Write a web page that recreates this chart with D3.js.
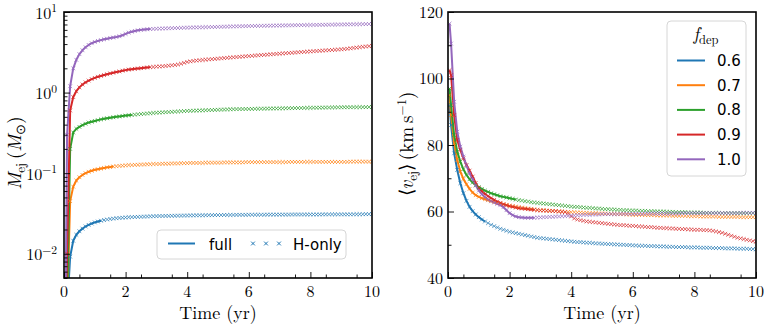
<!DOCTYPE html>
<html>
<head>
<meta charset="utf-8">
<script src="https://cdn.jsdelivr.net/npm/d3@7"></script>
<style>
  body { margin: 0; background: #fff; }
  svg { display: block; }
  .serif { font-family: 'Latin Modern Roman', 'Liberation Serif', serif; font-weight: normal; }
</style>
</head>
<body>
<div id="chart"></div>
<script>
const WIDTH = 769;
const HEIGHT = 327;
const SERIF = "'Latin Modern Roman', 'Liberation Serif', serif";
const SANS = "'DejaVu Sans', sans-serif";

// f_dep values, colours and the time (yr) at which the "full" run stops
const FDEP = ['0.6', '0.7', '0.8', '0.9', '1.0'];
const COLORS = ['#1f77b4', '#ff7f0e', '#2ca02c', '#d62728', '#9467bd'];
const FULL_END = [1.2, 1.6, 2.2, 2.8, 2.8];

// sample times: 0.05 then every 0.1 yr up to 10
const TIMES = [0.05, ...d3.range(1, 101).map(i => i / 10)];

// ejected mass (Msun), one value per TIMES entry
const MEJ_F06 = [0.001,
  0.002, 0.0092, 0.0145, 0.0172, 0.019, 0.0205, 0.0218, 0.0228, 0.0237, 0.0245,
  0.0251, 0.0257, 0.0262, 0.0266, 0.027, 0.0273, 0.0276, 0.0278, 0.028, 0.0282,
  0.0284, 0.0285, 0.0286, 0.0287, 0.0288, 0.0289, 0.029, 0.0291, 0.0292, 0.0293,
  0.0294, 0.0294, 0.0295, 0.0295, 0.0296, 0.0296, 0.0297, 0.0297, 0.0298, 0.0298,
  0.0299, 0.0299, 0.03, 0.03, 0.03, 0.0301, 0.0301, 0.0301, 0.0302, 0.0302,
  0.0302, 0.0303, 0.0303, 0.0303, 0.0303, 0.0304, 0.0304, 0.0304, 0.0304, 0.0305,
  0.0305, 0.0305, 0.0305, 0.0305, 0.0305, 0.0306, 0.0306, 0.0306, 0.0306, 0.0306,
  0.0306, 0.0306, 0.0306, 0.0307, 0.0307, 0.0307, 0.0307, 0.0307, 0.0307, 0.0307,
  0.0307, 0.0307, 0.0307, 0.0308, 0.0308, 0.0308, 0.0308, 0.0308, 0.0308, 0.0308,
  0.0308, 0.0308, 0.0308, 0.0309, 0.0309, 0.0309, 0.0309, 0.031, 0.031, 0.031];
const MEJ_F07 = [0.001,
  0.002, 0.045, 0.068, 0.081, 0.089, 0.095, 0.1, 0.104, 0.107, 0.11,
  0.112, 0.114, 0.116, 0.118, 0.119, 0.121, 0.122, 0.123, 0.124, 0.125,
  0.126, 0.126, 0.127, 0.127, 0.128, 0.128, 0.129, 0.129, 0.13, 0.13,
  0.13, 0.131, 0.131, 0.131, 0.132, 0.132, 0.132, 0.133, 0.133, 0.133,
  0.134, 0.134, 0.134, 0.134, 0.134, 0.135, 0.135, 0.135, 0.135, 0.135,
  0.135, 0.136, 0.136, 0.136, 0.136, 0.136, 0.136, 0.136, 0.137, 0.137,
  0.137, 0.137, 0.137, 0.137, 0.137, 0.137, 0.137, 0.137, 0.137, 0.137,
  0.137, 0.137, 0.138, 0.138, 0.138, 0.138, 0.138, 0.138, 0.138, 0.138,
  0.138, 0.138, 0.138, 0.138, 0.138, 0.138, 0.138, 0.138, 0.138, 0.138,
  0.138, 0.138, 0.139, 0.139, 0.139, 0.139, 0.139, 0.139, 0.139, 0.139];
const MEJ_F08 = [0.001,
  0.002, 0.2, 0.32, 0.355, 0.375, 0.395, 0.41, 0.425, 0.435, 0.445,
  0.455, 0.465, 0.473, 0.48, 0.487, 0.494, 0.5, 0.506, 0.512, 0.518,
  0.523, 0.528, 0.533, 0.538, 0.542, 0.546, 0.55, 0.554, 0.558, 0.562,
  0.565, 0.568, 0.571, 0.574, 0.577, 0.58, 0.583, 0.586, 0.589, 0.592,
  0.594, 0.596, 0.598, 0.6, 0.602, 0.604, 0.606, 0.608, 0.61, 0.612,
  0.614, 0.616, 0.618, 0.62, 0.622, 0.623, 0.624, 0.625, 0.626, 0.627,
  0.628, 0.629, 0.63, 0.631, 0.632, 0.633, 0.634, 0.635, 0.636, 0.637,
  0.638, 0.639, 0.64, 0.641, 0.642, 0.643, 0.644, 0.645, 0.646, 0.647,
  0.648, 0.649, 0.65, 0.651, 0.652, 0.653, 0.654, 0.655, 0.656, 0.657,
  0.657, 0.658, 0.658, 0.659, 0.659, 0.66, 0.66, 0.66, 0.661, 0.661];
const MEJ_F09 = [0.001,
  0.01, 0.6, 0.88, 1.04, 1.16, 1.26, 1.34, 1.41, 1.47, 1.52,
  1.57, 1.61, 1.65, 1.69, 1.73, 1.76, 1.8, 1.83, 1.87, 1.9,
  1.93, 1.95, 1.97, 1.99, 2.01, 2.03, 2.05, 2.07, 2.08, 2.1,
  2.11, 2.12, 2.14, 2.16, 2.18, 2.2, 2.23, 2.28, 2.34, 2.4,
  2.44, 2.47, 2.5, 2.52, 2.54, 2.56, 2.58, 2.6, 2.62, 2.64,
  2.66, 2.68, 2.7, 2.72, 2.74, 2.76, 2.78, 2.8, 2.82, 2.84,
  2.86, 2.88, 2.9, 2.92, 2.94, 2.96, 2.98, 3.0, 3.02, 3.04,
  3.06, 3.08, 3.1, 3.12, 3.14, 3.16, 3.18, 3.2, 3.22, 3.24,
  3.26, 3.28, 3.3, 3.32, 3.34, 3.36, 3.38, 3.4, 3.42, 3.44,
  3.47, 3.5, 3.54, 3.58, 3.62, 3.66, 3.7, 3.73, 3.76, 3.8];
const MEJ_F10 = [0.002,
  0.3, 1.2, 2.0, 2.55, 3.0, 3.35, 3.65, 3.9, 4.1, 4.25,
  4.38, 4.48, 4.58, 4.66, 4.75, 4.82, 4.9, 5.0, 5.15, 5.35,
  5.55, 5.7, 5.82, 5.92, 6.0, 6.05, 6.1, 6.15, 6.17, 6.2,
  6.22, 6.24, 6.26, 6.28, 6.3, 6.32, 6.34, 6.36, 6.38, 6.4,
  6.41, 6.43, 6.44, 6.46, 6.47, 6.49, 6.5, 6.52, 6.53, 6.55,
  6.56, 6.58, 6.59, 6.61, 6.62, 6.64, 6.65, 6.67, 6.68, 6.7,
  6.71, 6.72, 6.73, 6.74, 6.75, 6.76, 6.77, 6.78, 6.79, 6.8,
  6.81, 6.82, 6.83, 6.84, 6.85, 6.86, 6.87, 6.88, 6.89, 6.9,
  6.91, 6.92, 6.93, 6.94, 6.95, 6.96, 6.97, 6.98, 6.99, 7.0,
  7.01, 7.02, 7.03, 7.04, 7.05, 7.06, 7.07, 7.08, 7.09, 7.1];

// mean ejecta velocity (km/s), one value per TIMES entry
const VEJ_F06 = [92,
  86, 77.5, 72.5, 68.5, 65.5, 63.2, 61.4, 60.1, 59.1, 58.3,
  57.6, 57.0, 56.5, 56.0, 55.6, 55.2, 54.8, 54.5, 54.2, 53.9,
  53.7, 53.5, 53.3, 53.1, 52.9, 52.7, 52.5, 52.3, 52.1, 52.0,
  51.9, 51.8, 51.7, 51.6, 51.5, 51.4, 51.3, 51.2, 51.1, 51.0,
  50.9, 50.8, 50.8, 50.7, 50.6, 50.6, 50.5, 50.4, 50.4, 50.3,
  50.3, 50.2, 50.2, 50.1, 50.1, 50.0, 50.0, 49.9, 49.9, 49.8,
  49.8, 49.7, 49.7, 49.7, 49.6, 49.6, 49.6, 49.5, 49.5, 49.5,
  49.4, 49.4, 49.4, 49.3, 49.3, 49.3, 49.3, 49.2, 49.2, 49.2,
  49.2, 49.1, 49.1, 49.1, 49.1, 49.0, 49.0, 49.0, 49.0, 48.9,
  48.9, 48.9, 48.9, 48.8, 48.8, 48.8, 48.8, 48.7, 48.7, 48.6];
const VEJ_F07 = [95,
  89, 80.5, 75.5, 72, 69.8, 68.2, 66.8, 65.7, 64.9, 64.4,
  64.0, 63.7, 63.4, 63.1, 62.9, 62.6, 62.4, 62.2, 62.0, 61.8,
  61.6, 61.5, 61.3, 61.2, 61.0, 60.9, 60.8, 60.6, 60.5, 60.4,
  60.4, 60.3, 60.2, 60.2, 60.1, 60.0, 60.0, 59.9, 59.9, 59.8,
  59.8, 59.7, 59.7, 59.6, 59.6, 59.5, 59.5, 59.5, 59.4, 59.4,
  59.4, 59.3, 59.3, 59.3, 59.2, 59.2, 59.2, 59.1, 59.1, 59.0,
  59.0, 59.0, 59.0, 58.9, 58.9, 58.9, 58.9, 58.8, 58.8, 58.8,
  58.8, 58.8, 58.7, 58.7, 58.7, 58.7, 58.7, 58.6, 58.6, 58.6,
  58.6, 58.5, 58.5, 58.5, 58.5, 58.5, 58.5, 58.4, 58.4, 58.4,
  58.4, 58.4, 58.4, 58.4, 58.3, 58.3, 58.3, 58.3, 58.3, 58.3];
const VEJ_F08 = [97,
  92, 83, 78, 75, 72.7, 71, 69.7, 68.7, 67.9, 67.3,
  66.8, 66.3, 65.9, 65.5, 65.2, 64.9, 64.6, 64.4, 64.2, 64.0,
  63.8, 63.6, 63.4, 63.3, 63.1, 63.0, 62.8, 62.7, 62.6, 62.5,
  62.4, 62.3, 62.2, 62.1, 62.0, 61.9, 61.8, 61.7, 61.6, 61.5,
  61.4, 61.4, 61.3, 61.2, 61.1, 61.1, 61.0, 60.9, 60.9, 60.8,
  60.7, 60.7, 60.6, 60.6, 60.5, 60.5, 60.4, 60.4, 60.3, 60.3,
  60.3, 60.2, 60.2, 60.2, 60.1, 60.1, 60.1, 60.0, 60.0, 60.0,
  59.9, 59.9, 59.9, 59.8, 59.8, 59.8, 59.8, 59.7, 59.7, 59.7,
  59.7, 59.7, 59.6, 59.6, 59.6, 59.6, 59.6, 59.6, 59.5, 59.5,
  59.5, 59.5, 59.5, 59.5, 59.5, 59.5, 59.5, 59.5, 59.5, 59.5];
const VEJ_F09 = [102.5,
  101, 89, 81.5, 78.5, 76, 74, 72.3, 70.5, 68.6, 67,
  66.1, 65.3, 64.6, 64.0, 63.5, 63.0, 62.6, 62.2, 61.9, 61.6,
  61.4, 61.2, 61.0, 60.9, 60.8, 60.7, 60.6, 60.5, 60.4, 60.3,
  60.3, 60.2, 60.2, 60.1, 60.1, 60.0, 59.9, 59.8, 59.4, 58.5,
  57.9, 57.6, 57.4, 57.2, 57.0, 56.9, 56.8, 56.7, 56.6, 56.5,
  56.4, 56.3, 56.2, 56.1, 56.0, 55.9, 55.9, 55.8, 55.7, 55.7,
  55.6, 55.5, 55.5, 55.4, 55.3, 55.3, 55.2, 55.1, 55.1, 55.0,
  55.0, 54.9, 54.9, 54.8, 54.8, 54.7, 54.7, 54.6, 54.6, 54.5,
  54.5, 54.5, 54.4, 54.4, 54.3, 54.2, 54.0, 53.8, 53.6, 53.3,
  53.0, 52.7, 52.4, 52.1, 51.9, 51.7, 51.5, 51.3, 51.1, 50.9];
const VEJ_F10 = [116.5,
  110.5, 93, 84, 79.5, 76.5, 73.8, 71.5, 69.7, 67.8, 66.3,
  65.2, 64.3, 63.6, 63.1, 62.7, 62.3, 61.9, 61.3, 60.4, 59.5,
  58.9, 58.5, 58.3, 58.2, 58.1, 58.1, 58.1, 58.1, 58.2, 58.2,
  58.3, 58.3, 58.4, 58.4, 58.5, 58.5, 58.6, 58.6, 58.7, 58.8,
  58.8, 58.9, 58.9, 59.0, 59.0, 59.0, 59.1, 59.1, 59.1, 59.2,
  59.2, 59.2, 59.2, 59.2, 59.2, 59.3, 59.3, 59.3, 59.3, 59.3,
  59.3, 59.3, 59.3, 59.4, 59.4, 59.4, 59.4, 59.4, 59.4, 59.4,
  59.4, 59.4, 59.4, 59.4, 59.4, 59.5, 59.5, 59.5, 59.5, 59.5,
  59.5, 59.5, 59.5, 59.5, 59.5, 59.5, 59.5, 59.5, 59.5, 59.5,
  59.5, 59.5, 59.5, 59.5, 59.6, 59.6, 59.6, 59.6, 59.6, 59.6];

const MEJ = [MEJ_F06, MEJ_F07, MEJ_F08, MEJ_F09, MEJ_F10];
const VEJ = [VEJ_F06, VEJ_F07, VEJ_F08, VEJ_F09, VEJ_F10];

const X_TICKS = [0, 2, 4, 6, 8, 10];
const LOG_TICKS = [1e-2, 1e-1, 1e0, 1e1];
const V_TICKS = [40, 60, 80, 100, 120];

const svg = d3.select('#chart').append('svg')
  .attr('width', WIDTH).attr('height', HEIGHT)
  .attr('class', 'serif');

const TOP = 12, BOTTOM = 278;
const panels = [
  { left: 64, right: 372, id: 'clipL' },
  { left: 448, right: 756, id: 'clipR' }
];

const yM = d3.scaleLog().domain([0.005, 10]).range([BOTTOM, TOP]);
const yV = d3.scaleLinear().domain([40, 120]).range([BOTTOM, TOP]);

const crossPath = 'M-1.9,-1.9L1.9,1.9M-1.9,1.9L1.9,-1.9';

function serifText(sel, size) {
  return sel.attr('class', 'serif').attr('font-family', SERIF)
    .style('font-family', SERIF).style('font-weight', 'normal')
    .style('font-size', size + 'px').attr('fill', '#000');
}

const xScales = panels.map(p => d3.scaleLinear().domain([0, 10]).range([p.left, p.right]));

function drawMarks(p, x, yScale, data) {
  svg.append('clipPath').attr('id', p.id)
    .append('rect')
    .attr('x', p.left).attr('y', TOP)
    .attr('width', p.right - p.left).attr('height', BOTTOM - TOP);

  const g = svg.append('g').attr('clip-path', `url(#${p.id})`);

  data.forEach((vals, i) => {
    const pts = TIMES.map((t, k) => [t, vals[k]]);
    const line = d3.line().x(d => x(d[0])).y(d => yScale(d[1]));
    g.append('path')
      .datum(pts.filter(d => d[0] <= FULL_END[i] + 1e-9))
      .attr('d', line)
      .attr('fill', 'none')
      .attr('stroke', COLORS[i])
      .attr('stroke-width', 2)
      .attr('stroke-linejoin', 'round');
  });

  data.forEach((vals, i) => {
    g.append('g').selectAll('path')
      .data(TIMES.map((t, k) => [t, vals[k]]))
      .join('path')
      .attr('d', crossPath)
      .attr('transform', d => `translate(${x(d[0])},${yScale(d[1])})`)
      .attr('fill', 'none')
      .attr('stroke', COLORS[i])
      .attr('stroke-width', 1)
      .attr('opacity', 0.7);
  });
}

drawMarks(panels[0], xScales[0], yM, MEJ);
drawMarks(panels[1], xScales[1], yV, VEJ);

// x axes: tick marks from d3 (pointing inward), labels placed from the same scale
panels.forEach((p, i) => {
  const x = xScales[i];
  svg.append('g').attr('transform', `translate(0,${BOTTOM})`)
    .call(d3.axisBottom(x).tickValues(X_TICKS).tickSizeInner(-6).tickSizeOuter(0).tickFormat(''))
    .call(a => a.select('.domain').remove());
  svg.append('g').attr('transform', `translate(0,${BOTTOM})`)
    .call(d3.axisBottom(x).tickValues(d3.range(0.5, 10, 1)).tickSizeInner(-3.5).tickSizeOuter(0).tickFormat(''))
    .call(a => a.select('.domain').remove());

  const labels = svg.append('g');
  X_TICKS.forEach(v => {
    serifText(labels.append('text'), 16)
      .attr('x', x(v)).attr('y', 297)
      .attr('text-anchor', 'middle')
      .text(String(v));
  });

  serifText(svg.append('text'), 18)
    .attr('x', (p.left + p.right) / 2).attr('y', 318.5)
    .attr('text-anchor', 'middle')
    .text('Time (yr)');
});

// left y axis: log scale
const pl = panels[0];
const minorLog = [];
[1e-3, 1e-2, 1e-1, 1e0].forEach(dec => {
  for (let m = 2; m <= 9; m++) {
    const v = m * dec;
    if (v >= 0.005 && v <= 10) minorLog.push(v);
  }
});
svg.append('g').attr('transform', `translate(${pl.left},0)`)
  .call(d3.axisLeft(yM).tickValues(LOG_TICKS).tickSizeInner(-6).tickSizeOuter(0).tickFormat(''))
  .call(a => a.select('.domain').remove());
svg.append('g').attr('transform', `translate(${pl.left},0)`)
  .call(d3.axisLeft(yM).tickValues(minorLog).tickSizeInner(-3.5).tickSizeOuter(0).tickFormat(''))
  .call(a => a.select('.domain').remove());

LOG_TICKS.forEach(v => {
  const e = Math.round(Math.log10(v));
  const t = serifText(svg.append('text'), 16)
    .attr('x', pl.left - 7).attr('y', yM(v) + 6.5)
    .attr('text-anchor', 'end');
  t.append('tspan').text('10');
  t.append('tspan').attr('dy', -6.5).style('font-size', '11.5px')
    .text(e < 0 ? '\u2212' + (-e) : String(e));
});

// right y axis: linear
const pr = panels[1];
const ya = svg.append('g').attr('transform', `translate(${pr.left},0)`)
  .call(d3.axisLeft(yV).tickValues(V_TICKS).tickSizeInner(-6).tickSizeOuter(0).tickPadding(5))
  .call(a => a.select('.domain').remove());
ya.attr('font-family', SERIF);
serifText(ya.selectAll('text'), 16);
svg.append('g').attr('transform', `translate(${pr.left},0)`)
  .call(d3.axisLeft(yV).tickValues([50, 70, 90, 110]).tickSizeInner(-3.5).tickSizeOuter(0).tickFormat(''))
  .call(a => a.select('.domain').remove());

svg.selectAll('.tick line').attr('stroke', '#000').attr('stroke-width', 0.9);

// frames
panels.forEach(p => {
  svg.append('rect')
    .attr('x', p.left).attr('y', TOP)
    .attr('width', p.right - p.left).attr('height', BOTTOM - TOP)
    .attr('fill', 'none').attr('stroke', '#000').attr('stroke-width', 1.6);
});

// y labels
const labL = serifText(svg.append('text'), 19)
  .attr('transform', `translate(21,${(TOP + BOTTOM) / 2 + 8}) rotate(-90)`)
  .attr('text-anchor', 'middle');
labL.append('tspan').style('font-style', 'italic').text('M');
labL.append('tspan').attr('dy', 4).style('font-size', '13px').text('ej');
labL.append('tspan').attr('dy', -4).text('\u2009(');
labL.append('tspan').style('font-style', 'italic').text('M');
labL.append('tspan').attr('dy', 4).style('font-size', '13px').text('\u2299');
labL.append('tspan').attr('dy', -4).text(')');

const labR = serifText(svg.append('text'), 19)
  .attr('transform', `translate(413,${(TOP + BOTTOM) / 2 - 1}) rotate(-90)`)
  .attr('text-anchor', 'middle');
labR.append('tspan').text('\u27e8');
labR.append('tspan').style('font-style', 'italic').text('v');
labR.append('tspan').attr('dy', 4).style('font-size', '13px').text('ej');
labR.append('tspan').attr('dy', -4).text('\u27e9\u2009(km\u2009s');
labR.append('tspan').attr('dy', -7).style('font-size', '13px').text('\u22121');
labR.append('tspan').attr('dy', 7).text(')');

// left legend: full vs H-only
const legL = svg.append('g');
legL.append('rect')
  .attr('x', 157).attr('y', 230).attr('width', 189).attr('height', 29)
  .attr('rx', 4).attr('fill', '#fff').attr('fill-opacity', 0.8)
  .attr('stroke', '#d6d6d6').attr('stroke-width', 1);
legL.append('line')
  .attr('x1', 168).attr('x2', 195).attr('y1', 243.5).attr('y2', 243.5)
  .attr('stroke', COLORS[0]).attr('stroke-width', 2);
legL.append('text').attr('x', 209).attr('y', 249.5)
  .attr('font-family', SANS).style('font-family', SANS).style('font-size', '15px').text('full');
[253, 266, 279].forEach(cx => {
  legL.append('path').attr('d', crossPath)
    .attr('transform', `translate(${cx},243.5)`)
    .attr('fill', 'none').attr('stroke', COLORS[0]).attr('stroke-width', 1);
});
legL.append('text').attr('x', 293).attr('y', 249.5)
  .attr('font-family', SANS).style('font-family', SANS).style('font-size', '15px').text('H-only');

// right legend: f_dep
const legR = svg.append('g');
legR.append('rect')
  .attr('x', 667).attr('y', 21).attr('width', 79).attr('height', 155)
  .attr('rx', 4).attr('fill', '#fff').attr('fill-opacity', 0.8)
  .attr('stroke', '#d6d6d6').attr('stroke-width', 1);
const title = serifText(legR.append('text'), 18)
  .attr('x', 706).attr('y', 40)
  .attr('text-anchor', 'middle');
title.append('tspan').style('font-style', 'italic').text('f');
title.append('tspan').attr('dy', 4).style('font-size', '12.5px').text('dep');
FDEP.forEach((f, i) => {
  const cy = 60.5 + i * 24.7;
  legR.append('line')
    .attr('x1', 677).attr('x2', 705).attr('y1', cy).attr('y2', cy)
    .attr('stroke', COLORS[i]).attr('stroke-width', 2);
  legR.append('text').attr('x', 717).attr('y', cy + 5.5)
    .attr('font-family', SANS).style('font-family', SANS).style('font-size', '15px').text(f);
});
</script>
</body>
</html>
